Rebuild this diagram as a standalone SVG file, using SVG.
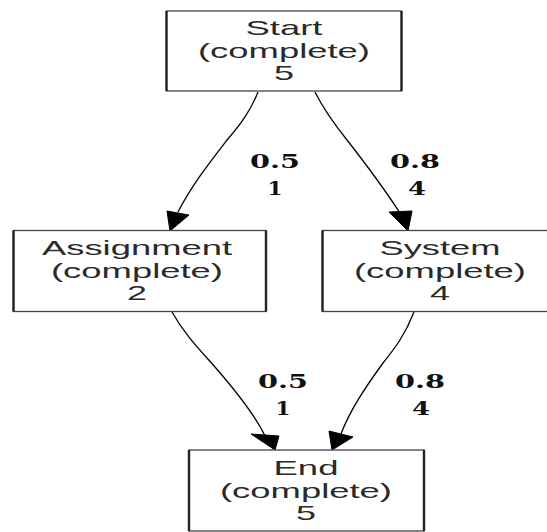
<svg xmlns="http://www.w3.org/2000/svg" width="547" height="532" viewBox="0 0 547 532">
<style>
.box{fill:#fff;stroke:#444;stroke-width:1.3}
.side{fill:none;stroke:#222;stroke-width:2.4}
.nt{font-family:"Liberation Sans",Arial,sans-serif;font-size:21px;fill:#2a2a2a;text-anchor:middle}
.el{font-family:"DejaVu Serif","Liberation Serif",serif;font-size:18px;font-weight:bold;fill:#111;text-anchor:middle}
.edge{fill:none;stroke:#000;stroke-width:1.3}
.ah{fill:#000;stroke:#000;stroke-width:1}
</style>
<rect width="547" height="532" fill="#fff"/>
<g id="connectors">
<path class="edge" d="M258,92 C250,112 240,125 227,140 C210,162 192,185 178,212"/>
<polygon class="ah" points="167,211 189,215 170,231"/>
<path class="edge" d="M315,92 C325,112 335,125 347,140 C365,163 385,190 400,213"/>
<polygon class="ah" points="389,212 412,211 408,231"/>
<path class="edge" d="M172,312 C185,335 200,350 215,367 C235,390 255,415 265,436"/>
<polygon class="ah" points="251,434 279,436 275,450"/>
<path class="edge" d="M414,312 C405,335 395,348 383,363 C365,388 350,410 341,434"/>
<polygon class="ah" points="329,431 353,437 332,450"/>
<text class="el" x="275" y="168" textLength="50" lengthAdjust="spacingAndGlyphs">0.5</text>
<text class="el" x="275" y="195" textLength="15" lengthAdjust="spacingAndGlyphs">1</text>
<text class="el" x="415" y="168" textLength="50" lengthAdjust="spacingAndGlyphs">0.8</text>
<text class="el" x="417" y="195" textLength="18" lengthAdjust="spacingAndGlyphs">4</text>
<text class="el" x="283" y="388" textLength="50" lengthAdjust="spacingAndGlyphs">0.5</text>
<text class="el" x="283" y="415" textLength="15" lengthAdjust="spacingAndGlyphs">1</text>
<text class="el" x="420" y="388" textLength="50" lengthAdjust="spacingAndGlyphs">0.8</text>
<text class="el" x="421" y="415" textLength="18" lengthAdjust="spacingAndGlyphs">4</text>
</g>
<g id="start">
<rect class="box" x="166.5" y="11" width="235" height="80"/>
<path class="side" d="M166.5,11V91M401.5,11V91"/>
<text class="nt" x="284" y="35" textLength="77" lengthAdjust="spacingAndGlyphs">Start</text>
<text class="nt" x="284" y="58" textLength="172" lengthAdjust="spacingAndGlyphs">(complete)</text>
<text class="nt" x="284" y="80" textLength="20" lengthAdjust="spacingAndGlyphs">5</text>
</g>
<g id="assignment">
<rect class="box" x="13.5" y="230.5" width="252.5" height="81"/>
<path class="side" d="M13.5,230.5V311.5M266,230.5V311.5"/>
<text class="nt" x="137" y="255" textLength="190" lengthAdjust="spacingAndGlyphs">Assignment</text>
<text class="nt" x="137" y="278" textLength="172" lengthAdjust="spacingAndGlyphs">(complete)</text>
<text class="nt" x="137" y="300" textLength="20" lengthAdjust="spacingAndGlyphs">2</text>
</g>
<g id="system">
<rect class="box" x="322.5" y="230.5" width="235" height="81"/>
<path class="side" d="M322.5,230.5V311.5"/>
<text class="nt" x="440" y="255" textLength="121" lengthAdjust="spacingAndGlyphs">System</text>
<text class="nt" x="440" y="278" textLength="172" lengthAdjust="spacingAndGlyphs">(complete)</text>
<text class="nt" x="440" y="300" textLength="20" lengthAdjust="spacingAndGlyphs">4</text>
</g>
<g id="end">
<rect class="box" x="189" y="450" width="235" height="81"/>
<path class="side" d="M189,450V531M424,450V531"/>
<text class="nt" x="306" y="475" textLength="65" lengthAdjust="spacingAndGlyphs">End</text>
<text class="nt" x="306" y="498" textLength="172" lengthAdjust="spacingAndGlyphs">(complete)</text>
<text class="nt" x="306" y="520" textLength="20" lengthAdjust="spacingAndGlyphs">5</text>
</g>
</svg>
